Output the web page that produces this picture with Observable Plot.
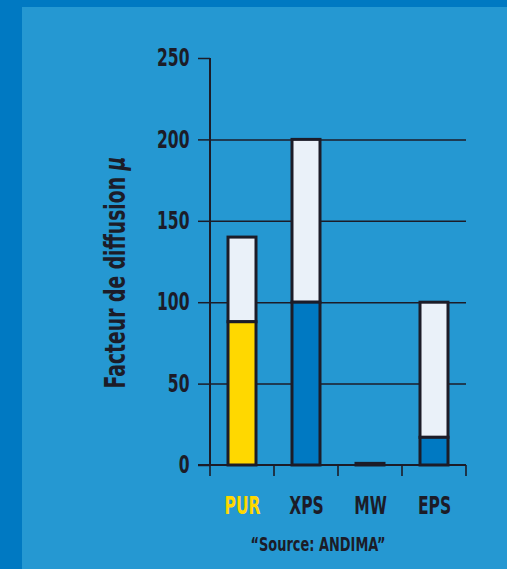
<!DOCTYPE html>
<html><head><meta charset="utf-8">
<script src="https://cdn.jsdelivr.net/npm/d3@7"></script>
<script src="https://cdn.jsdelivr.net/npm/@observablehq/plot@0.6"></script>
<style>
body{margin:0;}
#frame{position:relative;width:507px;height:569px;background:#0079c2;overflow:hidden;}
#panel{position:absolute;left:22px;top:7px;right:0;bottom:0;background:#2598d2;}
#chart{position:absolute;left:0;top:0;}
#source{position:absolute;left:218px;width:200px;top:532px;text-align:center;
  font-family:'DejaVu Sans Condensed','DejaVu Sans',sans-serif;
  font-weight:bold;font-size:20px;color:#1c1c28;transform:scaleX(0.72);transform-origin:center;}
</style></head>
<body>
<div id="frame"><div id="panel"></div><div id="chart"></div><div id="source">“Source: ANDIMA”</div></div>
<script>
const categories = ["PUR", "XPS", "MW", "EPS"];
const baseValues = [88, 100, 1, 17];
const totalValues = [140, 200, 1, 100];
const yTicks = [0, 50, 100, 150, 200, 250];
const gridTicks = [50, 100, 150, 200];
const yLabel = "Facteur de diffusion";
const yLabelUnit = "μ";

const FONT = "'DejaVu Sans Condensed','DejaVu Sans',sans-serif";
const INK = "#1c1c28";
const YELLOW = "#ffd800";
const BLUE = "#0079c2";
const LIGHT = "#eaf1f9";
const CONDENSE = 0.72;

const rows = categories.map((c, i) => ({category: c, base: baseValues[i], total: totalValues[i]}));

function frameLines(index, scales, values, dims) {
  const x = scales.x, y = scales.y;
  const step = x(categories[1]) - x(categories[0]);
  let bw = typeof x.bandwidth === "function" ? x.bandwidth() : x.bandwidth;
  if (!(bw > 0) && scales.scales && scales.scales.x) bw = scales.scales.x.bandwidth;
  if (!(bw > 0)) bw = step * (1 - 0.56);
  const start = x(categories[0]) - (step - bw) / 2;
  const g = d3.create("svg:g").attr("stroke", INK).attr("fill", "none");
  const y0 = y(0), yTop = y(250);
  g.append("line").attr("x1", start).attr("x2", start).attr("y1", yTop).attr("y2", y0).attr("stroke-width", 2);
  const end = start + step * categories.length;
  g.append("line").attr("x1", start - 12).attr("x2", end).attr("y1", y0).attr("y2", y0).attr("stroke-width", 2);
  for (let i = 0; i <= categories.length; i++) {
    const xx = start + i * step;
    g.append("line").attr("x1", xx).attr("x2", xx).attr("y1", y0).attr("y2", y0 + 11).attr("stroke-width", 1.6);
  }
  const t = d3.create("svg:text")
    .attr("transform", `translate(${start - 85},${(y0 + yTop) / 2 + 11}) rotate(-90)`)
    .attr("text-anchor", "middle")
    .attr("fill", INK).attr("stroke", "none")
    .attr("font-size", 29).attr("font-weight", "bold").attr("font-family", FONT);
  t.append("tspan").text(yLabel + " ");
  t.append("tspan").attr("font-style", "italic").text(yLabelUnit);
  g.append(() => t.node());
  return g.node();
}

const plot = Plot.plot({
  width: 507, height: 525,
  marginTop: 58, marginBottom: 60, marginLeft: 210, marginRight: 41,
  style: {background: "transparent", fontFamily: FONT, color: INK, overflow: "visible"},
  x: {domain: categories, paddingInner: 0.56, paddingOuter: 0.28, axis: null},
  y: {domain: [0, 250], axis: null},
  color: {type: "identity"},
  marks: [
    Plot.gridY(gridTicks, {stroke: INK, strokeOpacity: 1, strokeWidth: 1.5}),
    Plot.axisY(yTicks, {tickSize: 12, tickPadding: 9, fontSize: 24, fontWeight: "bold", stroke: INK, strokeWidth: 1.5, fill: INK, label: null}),
    Plot.axisX(categories.filter(c => c !== "PUR"), {tickSize: 0, tickPadding: 31, fontSize: 24, fontWeight: "bold", fill: INK, label: null}),
    Plot.axisX(categories.filter(c => c === "PUR"), {tickSize: 0, tickPadding: 31, fontSize: 24, fontWeight: "bold", fill: YELLOW, label: null}),
    Plot.barY(rows, {x: "category", y1: "base", y2: "total", fill: LIGHT, stroke: INK, strokeWidth: 3}),
    Plot.barY(rows, {x: "category", y1: 0, y2: "base", fill: d => d.category === "PUR" ? YELLOW : BLUE, stroke: INK, strokeWidth: 3}),
    frameLines
  ]
});
document.getElementById("chart").appendChild(plot);
// condense glyphs to mimic the reference's condensed typeface
plot.querySelectorAll("text").forEach(el => {
  const w = el.getComputedTextLength();
  if (w > 0) {
    el.setAttribute("textLength", (w * CONDENSE).toFixed(2));
    el.setAttribute("lengthAdjust", "spacingAndGlyphs");
  }
});
</script>
</body></html>
